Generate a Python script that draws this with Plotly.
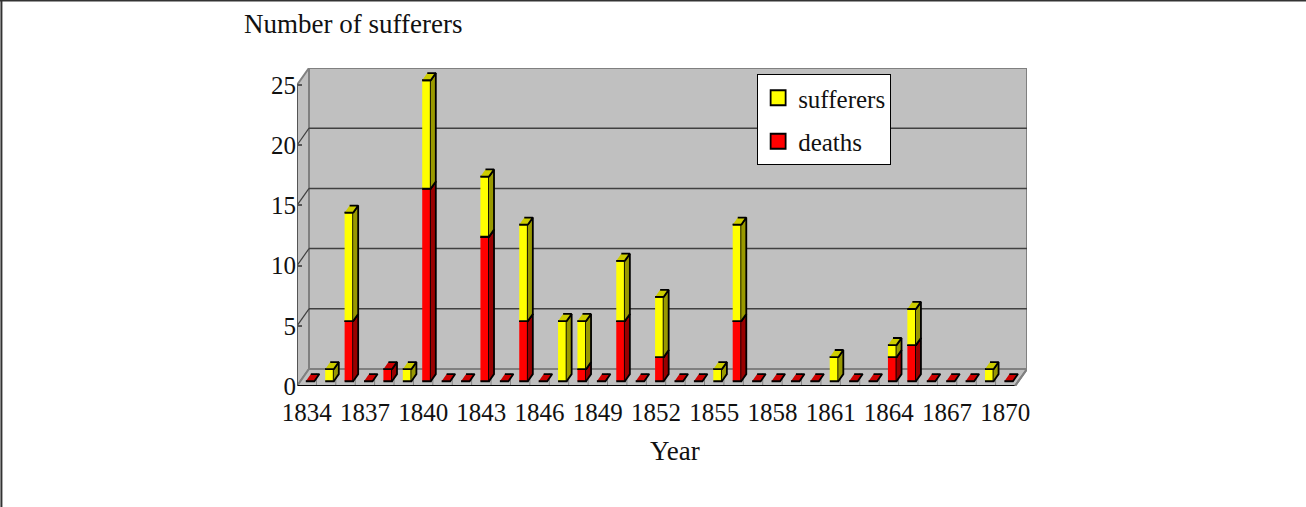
import plotly.graph_objects as go

# Yearly counts (sufferers includes deaths)
years = list(range(1834, 1871))
sufferers = [0, 1, 14, 0, 1, 1, 25, 0, 0, 17, 0, 13, 0, 5, 5, 0, 10, 0, 7, 0,
             0, 1, 13, 0, 0, 0, 0, 2, 0, 0, 3, 6, 0, 0, 0, 1, 0]
deaths = [0, 0, 5, 0, 1, 0, 16, 0, 0, 12, 0, 5, 0, 0, 1, 0, 5, 0, 2, 0,
          0, 0, 5, 0, 0, 0, 0, 0, 0, 0, 2, 3, 0, 0, 0, 0, 0]
y_ticks = [0, 5, 10, 15, 20, 25]
x_tick_years = years[::3]

# ---- pseudo-3D view geometry (pixels) ----
W_PX, H_PX = 1306, 507
PX_PER_YEAR = 19.4
PX_PER_UNIT = 12.04
DEPTH_DX_PX, DEPTH_DY_PX = 12, 17
Y_MAX = 25
PLOT_L = 297
PLOT_B = 386
PLOT_R = PLOT_L + (len(years)) * PX_PER_YEAR + DEPTH_DX_PX
PLOT_T = PLOT_B - Y_MAX * PX_PER_UNIT - DEPTH_DY_PX
PW, PH = PLOT_R - PLOT_L, PLOT_B - PLOT_T

X0 = years[0] - 0.5
X1 = years[-1] + 0.5
DX = DEPTH_DX_PX / PX_PER_YEAR
DY = DEPTH_DY_PX / PX_PER_UNIT

# bar footprint inside the category slot (depth fraction, half width in years)
D0, D1 = 0.28, 0.7
HW = 0.22


def px_x(p):
    return (p - PLOT_L) / PW


def px_y(p):
    return (PLOT_B - p) / PH


def add_poly(store, pts):
    for x, y in pts:
        store[0].append(x)
        store[1].append(y)
    store[0].append(None)
    store[1].append(None)


def add_box(faces, xc, lo, hi):
    xl = xc - HW + D0 * DX
    xr = xc + HW + D0 * DX
    ox, oy = (D1 - D0) * DX, (D1 - D0) * DY
    b, t = lo + D0 * DY, hi + D0 * DY
    if hi > lo:
        add_poly(faces["front"], [(xl, b), (xr, b), (xr, t), (xl, t)])
        add_poly(faces["side"], [(xr, b), (xr + ox, b + oy), (xr + ox, t + oy), (xr, t)])
    add_poly(faces["top"], [(xl, t), (xr, t), (xr + ox, t + oy), (xl + ox, t + oy)])


red = {k: ([], []) for k in ("front", "side", "top")}
yel = {k: ([], []) for k in ("front", "side", "top")}
for yr, tot, dth in zip(years, sufferers, deaths):
    if dth > 0 or tot == 0:
        add_box(red, yr, 0, dth)
    if tot - dth > 0:
        add_box(yel, yr, dth, tot)

face_colors = {
    "red": {"front": "#FF0000", "side": "#990000", "top": "#CC0000"},
    "yel": {"front": "#FFFF00", "side": "#999900", "top": "#CCCC00"},
}

fig = go.Figure()
for key, faces in (("red", red), ("yel", yel)):
    for face in ("front", "side", "top"):
        xs, ys = faces[face]
        fig.add_trace(go.Scatter(
            x=xs, y=ys, mode="lines", fill="toself",
            fillcolor=face_colors[key][face],
            line=dict(color="black", width=1.8),
            hoverinfo="skip", showlegend=False,
        ))

# legend entries
fig.add_trace(go.Scatter(
    x=[None], y=[None], mode="markers", name="sufferers", legendgroup="s",
    marker=dict(symbol="square", size=15, color="#FFFF00",
                line=dict(color="black", width=1.8)),
))
fig.add_trace(go.Scatter(
    x=[None], y=[None], mode="markers", name="deaths", legendgroup="d",
    marker=dict(symbol="square", size=15, color="#FF0000",
                line=dict(color="black", width=1.8)),
))

# walls, floor and gridlines
shapes = []
wall_line = dict(color="#808080", width=2)
shapes.append(dict(type="path", layer="below", line=wall_line, fillcolor="#C0C0C0",
                   path=f"M{X0+DX},{DY} L{X1+DX},{DY} L{X1+DX},{Y_MAX+DY} L{X0+DX},{Y_MAX+DY} Z"))
shapes.append(dict(type="path", layer="below", line=wall_line, fillcolor="#C0C0C0",
                   path=f"M{X0},0 L{X0+DX},{DY} L{X0+DX},{Y_MAX+DY} L{X0},{Y_MAX} Z"))
shapes.append(dict(type="path", layer="below", line=wall_line, fillcolor="#C0C0C0",
                   path=f"M{X0},0 L{X1},0 L{X1+DX},{DY} L{X0+DX},{DY} Z"))
for v in y_ticks[1:-1]:
    shapes.append(dict(type="line", layer="below", x0=X0 + DX, x1=X1 + DX,
                       y0=v + DY, y1=v + DY, line=dict(color="#404040", width=1.5)))
for v in y_ticks[1:-1]:
    shapes.append(dict(type="line", layer="below", x0=X0, x1=X0 + DX,
                       y0=v, y1=v + DY, line=dict(color="#404040", width=1.2)))
# category dividers on the floor
for yr in years[:-1]:
    shapes.append(dict(type="line", layer="below", x0=yr + 0.5, x1=yr + 0.5,
                       y0=0, y1=DY * 0.75, line=dict(color="#808080", width=1)))
# front edges
shapes.append(dict(type="line", x0=X0, x1=X1, y0=0, y1=0, layer="below",
                   line=dict(color="black", width=2)))
shapes.append(dict(type="line", x0=X1, x1=X1 + DX, y0=0, y1=DY, layer="below",
                   line=dict(color="#808080", width=2)))
shapes.append(dict(type="line", x0=X0, x1=X0, y0=0, y1=Y_MAX, layer="below",
                   line=dict(color="#555555", width=2)))
# outer frame (top and left edges)
shapes.append(dict(type="line", xref="paper", yref="paper",
                   x0=px_x(0), x1=px_x(W_PX), y0=px_y(0.5), y1=px_y(0.5),
                   line=dict(color="#333333", width=2)))
shapes.append(dict(type="line", xref="paper", yref="paper",
                   x0=px_x(1.5), x1=px_x(1.5), y0=px_y(0), y1=px_y(H_PX),
                   line=dict(color="#333333", width=2)))

FONT = "Liberation Serif"
annotations = [
    dict(text="Number of sufferers", xref="paper", yref="paper",
         x=px_x(242), y=px_y(24), xanchor="left", yanchor="middle",
         showarrow=False, font=dict(family=FONT, size=27, color="#111111")),
    dict(text="Year", xref="paper", yref="paper",
         x=px_x(675), y=px_y(451), xanchor="center", yanchor="middle",
         showarrow=False, font=dict(family=FONT, size=27, color="#111111")),
]

fig.update_layout(
    width=W_PX, height=H_PX,
    margin=dict(l=PLOT_L, r=W_PX - PLOT_R, t=PLOT_T, b=H_PX - PLOT_B, pad=0),
    paper_bgcolor="white", plot_bgcolor="white",
    shapes=shapes, annotations=annotations,
    showlegend=True,
    legend=dict(
        x=px_x(757), y=px_y(74), xanchor="left", yanchor="top",
        bgcolor="white", bordercolor="black", borderwidth=1,
        font=dict(family=FONT, size=25, color="#111111"),
        tracegroupgap=8, itemwidth=30,
    ),
    xaxis=dict(
        range=[X0, X0 + PW / PX_PER_YEAR], showgrid=False, zeroline=False,
        showline=False, tickmode="array", tickvals=x_tick_years,
        ticktext=[str(v) for v in x_tick_years],
        ticks="outside", ticklen=4, tickcolor="rgba(0,0,0,0)",
        tickfont=dict(family=FONT, size=25, color="#111111"), fixedrange=True,
    ),
    yaxis=dict(
        range=[0, PH / PX_PER_UNIT], showgrid=False, zeroline=False,
        showline=False, tickmode="array", tickvals=y_ticks,
        ticks="inside", ticklen=5, tickcolor="#555555", tickwidth=1.5,
        tickfont=dict(family=FONT, size=25, color="#111111"), fixedrange=True,
    ),
)

fig.write_html("out.html")
